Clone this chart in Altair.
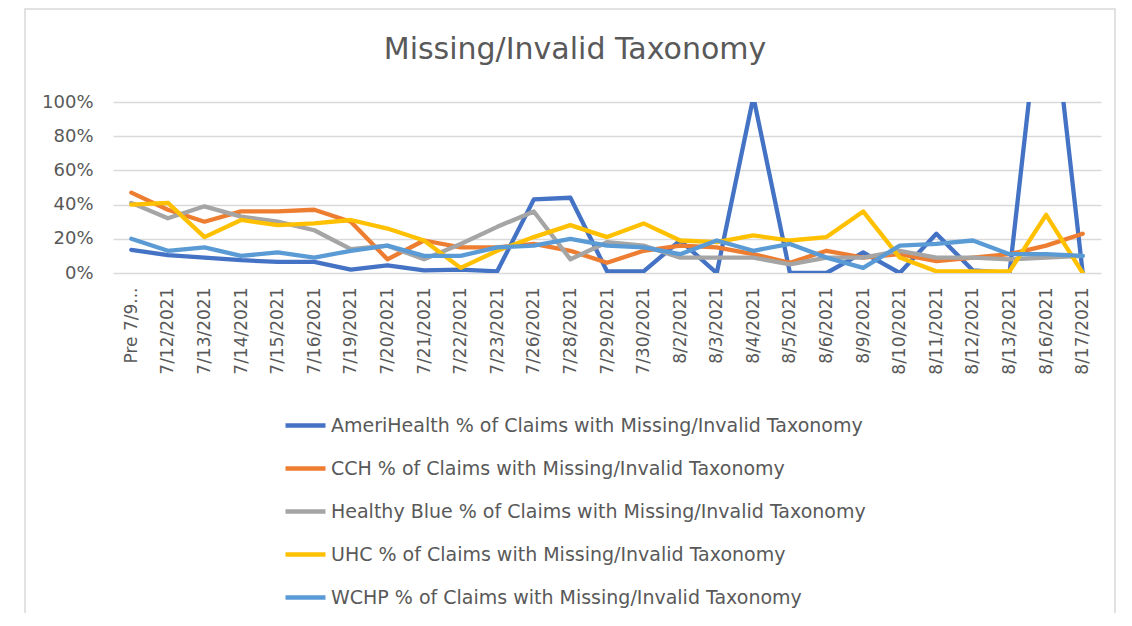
import altair as alt
import pandas as pd

categories = ["Pre 7/9...", "7/12/2021", "7/13/2021", "7/14/2021", "7/15/2021", "7/16/2021",
              "7/19/2021", "7/20/2021", "7/21/2021", "7/22/2021", "7/23/2021", "7/26/2021",
              "7/28/2021", "7/29/2021", "7/30/2021", "8/2/2021", "8/3/2021", "8/4/2021",
              "8/5/2021", "8/6/2021", "8/9/2021", "8/10/2021", "8/11/2021", "8/12/2021",
              "8/13/2021", "8/16/2021", "8/17/2021"]

amerihealth = [0.135, 0.105, 0.09, 0.075, 0.065, 0.065, 0.02, 0.045, 0.015, 0.02, 0.01, 0.43, 0.44,
               0.01, 0.01, 0.19, 0.0, 1.03, 0.0, 0.0, 0.12, 0.0, 0.23, 0.015, 0.0, 1.9, 0.0]
cch = [0.47, 0.37, 0.30, 0.36, 0.36, 0.37, 0.30, 0.08, 0.19, 0.15, 0.15, 0.17, 0.13, 0.06, 0.13,
       0.16, 0.15, 0.11, 0.06, 0.13, 0.09, 0.11, 0.07, 0.09, 0.11, 0.16, 0.23]
healthy_blue = [0.41, 0.32, 0.39, 0.33, 0.30, 0.25, 0.14, 0.16, 0.08, 0.17, 0.27, 0.36, 0.08, 0.18,
                0.16, 0.09, 0.09, 0.09, 0.05, 0.09, 0.09, 0.13, 0.09, 0.09, 0.08, 0.09, 0.10]
uhc = [0.40, 0.41, 0.21, 0.31, 0.28, 0.29, 0.31, 0.26, 0.19, 0.03, 0.13, 0.21, 0.28, 0.21, 0.29,
       0.19, 0.18, 0.22, 0.19, 0.21, 0.36, 0.09, 0.01, 0.01, 0.01, 0.34, 0.0]
wchp = [0.20, 0.13, 0.15, 0.10, 0.12, 0.09, 0.13, 0.16, 0.10, 0.10, 0.15, 0.16, 0.20, 0.16, 0.15,
        0.11, 0.19, 0.13, 0.17, 0.09, 0.03, 0.16, 0.17, 0.19, 0.11, 0.11, 0.10]

series_names = [
    "AmeriHealth % of Claims with Missing/Invalid Taxonomy",
    "CCH % of Claims with Missing/Invalid Taxonomy",
    "Healthy Blue % of Claims with Missing/Invalid Taxonomy",
    "UHC % of Claims with Missing/Invalid Taxonomy",
    "WCHP % of Claims with Missing/Invalid Taxonomy",
]
series_values = [amerihealth, cch, healthy_blue, uhc, wchp]
series_colors = ["#4472C4", "#ED7D31", "#A5A5A5", "#FFC000", "#5B9BD5"]
chart_title = "Missing/Invalid Taxonomy"

rows = []
for name, vals in zip(series_names, series_values):
    for c, v in zip(categories, vals):
        rows.append({"Date": c, "Series": name, "Value": v})
df = pd.DataFrame(rows)

FONT = "DejaVu Sans"
TXT = "#595959"

lines = alt.Chart(df).mark_line(strokeWidth=4.3, clip=True, strokeJoin="round", strokeCap="round").encode(
    x=alt.X("Date:O", sort=categories, scale=alt.Scale(type="point", padding=0.5),
            axis=alt.Axis(title=None, labelAngle=-90, labelAlign="right", labelBaseline="middle",
                          labelFont=FONT, labelFontSize=17, labelColor=TXT, labelPadding=14,
                          ticks=False, domain=False, grid=False, labelLimit=0)),
    y=alt.Y("Value:Q", scale=alt.Scale(domain=[0, 1], nice=False),
            axis=alt.Axis(title=None, format=".0%", values=[0, 0.2, 0.4, 0.6, 0.8, 1.0],
                          labelFont=FONT, labelFontSize=18, labelColor=TXT, labelPadding=20,
                          ticks=False, domain=False, gridColor="#D9D9D9", gridWidth=1.5)),
    color=alt.Color("Series:N", sort=series_names,
                    scale=alt.Scale(domain=series_names, range=series_colors),
                    legend=alt.Legend(title=None, orient="none", legendX=170, legendY=301,
                                      direction="vertical", symbolType="stroke", symbolSize=1600,
                                      symbolStrokeWidth=4.5, labelFont=FONT, labelFontSize=19,
                                      labelColor=TXT, rowPadding=10, labelLimit=0, labelOffset=3)),
    order=alt.Order("Series:N"),
)

frame = alt.Chart(alt.Data(values=[{"f": 1}])).mark_rect(
    fill=None, stroke="#D9D9D9", strokeWidth=1.5
).encode(
    x=alt.value(-88), x2=alt.value(1002), y=alt.value(-93), y2=alt.value(600)
)

title = alt.Chart(alt.Data(values=[{"t": chart_title}])).mark_text(
    font=FONT, fontSize=30, color=TXT, align="center", baseline="middle"
).encode(
    text="t:N", x=alt.value(462), y=alt.value(-52)
)

chart = alt.layer(frame, title, lines).properties(
    width=988, height=171,
    autosize=alt.AutoSizeParams(type="none"),
    padding={"left": 105, "top": 94, "right": 23, "bottom": 340},
).configure_view(stroke=None)

chart.save("out.html", embed_options={"renderer": "svg", "actions": False})
